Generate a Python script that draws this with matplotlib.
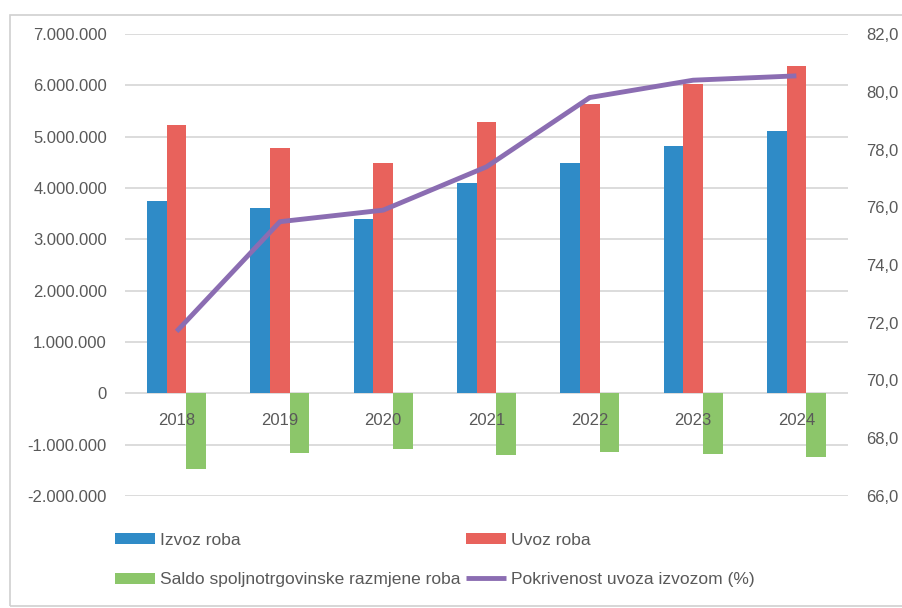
import matplotlib.pyplot as plt
import numpy as np
from matplotlib.patches import Rectangle
from matplotlib.ticker import FuncFormatter

# Podaci (procijenjeno sa grafika)
godine = ['2018', '2019', '2020', '2021', '2022', '2023', '2024']
izvoz = [3750000, 3620000, 3400000, 4090000, 4480000, 4820000, 5120000]
uvoz = [5220000, 4780000, 4490000, 5290000, 5630000, 6020000, 6380000]
saldo = [-1475000, -1170000, -1080000, -1195000, -1140000, -1180000, -1240000]
pokrivenost = [71.7, 75.5, 75.9, 77.4, 79.8, 80.4, 80.55]

plavo = '#2F8BC7'
crveno = '#E8625C'
zeleno = '#8CC66A'
ljubicasto = '#8B6DB2'
siva = '#595959'

plt.rcParams['font.family'] = ['Liberation Sans', 'DejaVu Sans']
plt.rcParams['font.size'] = 12

fig = plt.figure(figsize=(9.03, 6.08), dpi=100)
W, H = 903, 608
ax = fig.add_axes([125 / W, 1 - 496 / H, (848 - 125) / W, (496 - 34) / H])

# okvir oko slike (desna ivica je odsjecena)
fig.patches.append(Rectangle((10 / W, 1 - 606 / H), 950 / W, 591 / H, transform=fig.transFigure,
                             fill=False, edgecolor='#d0d0d0', linewidth=1.2))

x = np.arange(len(godine))
w = 0.19
b1 = ax.bar(x - w, izvoz, w, color=plavo, zorder=2)
b2 = ax.bar(x, uvoz, w, color=crveno, zorder=2)
b3 = ax.bar(x + w, saldo, w, color=zeleno, zorder=2)

ax.set_axisbelow(False)  # oznake godina preko zelenih stubica
ax.set_xlim(-0.5, len(godine) - 0.5)
ax.set_ylim(-2000000, 7000000)
yt = np.arange(-2000000, 7000001, 1000000)
ax.set_yticks(yt)
for v in yt:
    ax.axhline(v, color='#d9d9d9', linewidth=1.3, zorder=1)
ax.yaxis.set_major_formatter(FuncFormatter(lambda v, p: f'{int(v):,}'.replace(',', '.')))
for s in ax.spines.values():
    s.set_visible(False)
ax.spines['bottom'].set_position(('data', 0))
ax.set_xticks(x)
ax.set_xticklabels(godine)
ax.tick_params(axis='x', length=0, pad=14, colors=siva)
ax.tick_params(axis='y', length=0, pad=13, colors=siva)

ax2 = ax.twinx()
l1, = ax2.plot(x, pokrivenost, color=ljubicasto, linewidth=3.5, solid_capstyle='butt', zorder=4)
ax2.set_ylim(66, 82)
ax2.set_yticks(np.arange(66, 82.1, 2))
ax2.yaxis.set_major_formatter(FuncFormatter(lambda v, p: f'{v:.1f}'.replace('.', ',')))
ax2.tick_params(axis='y', length=0, pad=13, colors=siva)
for s in ax2.spines.values():
    s.set_visible(False)

leg = fig.legend([b1, b3, b2, l1],
                 ['Izvoz roba', 'Saldo spoljnotrgovinske razmjene roba', 'Uvoz roba',
                  'Pokrivenost uvoza izvozom (%)'],
                 ncol=2, loc='center left', bbox_to_anchor=(115 / W, 1 - 560 / H),
                 frameon=False, borderpad=0, borderaxespad=0, fontsize=12.5,
                 handlelength=2.3, handleheight=0.6, handletextpad=0.3,
                 columnspacing=0.3, labelspacing=1.4)
for t in leg.get_texts():
    t.set_color(siva)

fig.savefig('out.png', dpi=100)
